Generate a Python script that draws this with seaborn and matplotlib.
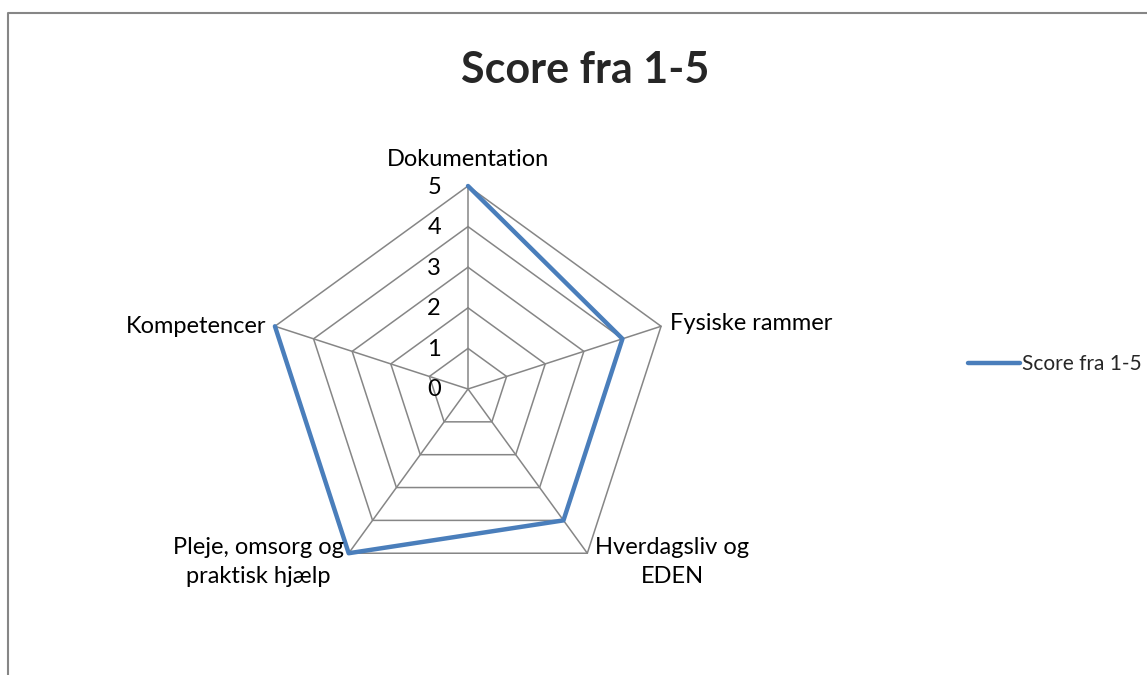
import numpy as np
import matplotlib
matplotlib.use("Agg")
import matplotlib.pyplot as plt
from matplotlib.lines import Line2D
import seaborn as sns

# chart data
categories = ["Dokumentation", "Fysiske rammer", "Hverdagsliv og\nEDEN",
              "Pleje, omsorg og\npraktisk hjælp", "Kompetencer"]
scores = [5, 4, 4, 5, 5]
series_name = "Score fra 1-5"
title = "Score fra 1-5"
levels = [0, 1, 2, 3, 4, 5]

LINE_BLUE = "#4A7EBB"
GRID_GREY = "#868686"


def setup_style():
    sns.set_style("white")
    plt.rcParams["font.family"] = ["Lato", "DejaVu Sans"]


def plot_radar():
    fig = plt.figure(figsize=(11.47, 6.75), dpi=100)
    W, H = 1147, 675
    cx, cy, rad = 468, 389, 203
    ax = fig.add_axes([(cx - rad) / W, (H - cy - rad) / H, 2 * rad / W, 2 * rad / H],
                      projection="polar")
    ax.set_theta_offset(np.pi / 2)
    ax.set_theta_direction(-1)
    ax.set_ylim(0, levels[-1])
    ax.grid(False)
    ax.set_xticks([])
    ax.set_yticks([])
    ax.spines["polar"].set_visible(False)
    ax.patch.set_alpha(0)

    n = len(categories)
    angles = np.linspace(0, 2 * np.pi, n, endpoint=False)
    closed = np.append(angles, angles[0])

    # pentagon grid rings and spokes
    for lv in levels[1:]:
        ax.plot(closed, [lv] * (n + 1), color=GRID_GREY, lw=1.1, clip_on=False, zorder=1)
    for a in angles:
        ax.plot([a, a], [0, levels[-1]], color=GRID_GREY, lw=1.1, clip_on=False, zorder=1)

    # data series
    vals = scores + scores[:1]
    sns.lineplot(x=closed, y=vals, ax=ax, sort=False, color=LINE_BLUE, lw=3.2,
                 label=series_name, legend=False, clip_on=False, zorder=3)

    # radial value labels
    for lv in levels:
        ax.annotate(str(lv), xy=(0, lv), xytext=(-27, -1), textcoords="offset pixels",
                    ha="right", va="center", fontsize=17, color="black")

    # category labels
    offsets = [(0, 27, "center", "center"),
               (9, 3, "left", "center"),
               (8, -9, "left", "center"),
               (-5, -9, "right", "center"),
               (-9, 0, "right", "center")]
    for a, lab, (dx, dy, ha, va) in zip(angles, categories, offsets):
        ax.annotate(lab, xy=(a, levels[-1]), xytext=(dx, dy), textcoords="offset pixels",
                    ha=ha, va=va, multialignment="center", fontsize=17, color="black",
                    linespacing=1.45)

    fig.text(585 / W, 1 - 70 / H, title, ha="center", va="center",
             fontsize=31, fontweight="bold")

    handles, labels = ax.get_legend_handles_labels()
    ax.legend(handles, labels, loc="center left", bbox_to_anchor=(968 / W, 1 - 364 / H),
              bbox_transform=fig.transFigure, frameon=False, fontsize=15,
              borderpad=0, borderaxespad=0, handlelength=2.5, handletextpad=0.1)

    # chart area border (left and top edges visible)
    fig.add_artist(Line2D([8 / W, 8 / W, 1], [0, 1 - 13 / H, 1 - 13 / H],
                          transform=fig.transFigure, color=GRID_GREY, lw=1.5))

    fig.savefig("out.png", dpi=100)


if __name__ == "__main__":
    setup_style()
    plot_radar()
